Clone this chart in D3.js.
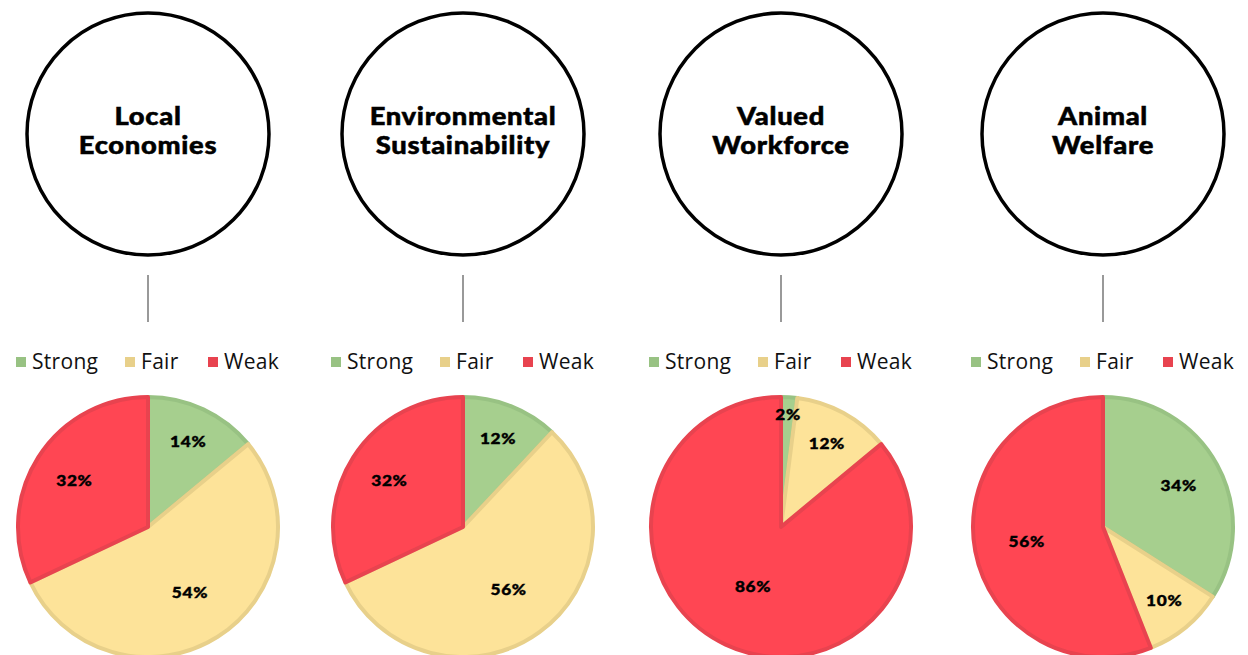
<!DOCTYPE html>
<html>
<head>
<meta charset="utf-8">
<script src="https://cdn.jsdelivr.net/npm/d3@7"></script>
<style>
  body { margin: 0; background: #fff; }
  svg { display: block; }
</style>
</head>
<body>
<div id="chart"></div>
<script>
// values
var topics = ["Local Economies", "Environmental Sustainability", "Valued Workforce", "Animal Welfare"];
var titleLines = [["Local", "Economies"], ["Environmental", "Sustainability"], ["Valued", "Workforce"], ["Animal", "Welfare"]];
var categories = ["Strong", "Fair", "Weak"];
var strong = [14, 12, 2, 34];
var fair = [54, 56, 12, 10];
var weak = [32, 32, 86, 56];

var width = 1248,
    height = 655;

var fills = { Strong: "#a6cf8e", Fair: "#fde399", Weak: "#ff4653" };
var strokes = { Strong: "#98c283", Fair: "#e8d08a", Weak: "#e8434f" };

var svg = d3.select("#chart")
            .append("svg")
            .attr("width", width)
            .attr("height", height);

// column centres of the four panels
var xScale = d3.scaleOrdinal().domain(topics).range([148, 463, 781, 1103]);

var circleY = 134, circleR = 121,
    pieY = 527, pieR = 130;

var pie = d3.pie().sort(null).value(function(d) { return d.value; });
var arc = d3.arc().innerRadius(0).outerRadius(pieR);

topics.forEach(function(topic, i) {
  var cx = xScale(topic);
  var g = svg.append("g").attr("transform", "translate(" + cx + ",0)");

  // header circle
  g.append("circle")
   .attr("cx", 0).attr("cy", circleY).attr("r", circleR)
   .attr("fill", "none").attr("stroke", "#000").attr("stroke-width", 3.5);

  // title, stretched a little to get the wide heavy look
  g.append("g")
   .attr("transform", "scale(1.14,1)")
   .selectAll(".title")
   .data(titleLines[i])
   .enter().append("text")
   .attr("class", "title")
   .attr("x", 0)
   .attr("y", function(d, j) { return 125 + j * 29; })
   .attr("text-anchor", "middle")
   .style("font-family", "Lato, sans-serif")
   .style("font-weight", 900)
   .style("font-size", "24px")
   .style("letter-spacing", "0.6px")
   .attr("stroke", "#000")
   .attr("stroke-width", 0.5)
   .text(function(d) { return d; });

  g.append("line")
   .attr("x1", 0).attr("x2", 0).attr("y1", 275).attr("y2", 322)
   .attr("stroke", "#555").attr("stroke-width", 1.2);

  // legend
  var legendX = [-132, -23, 60];
  var lg = g.selectAll(".legend")
            .data(categories)
            .enter().append("g")
            .attr("class", "legend")
            .attr("transform", function(d, j) { return "translate(" + legendX[j] + ",362)"; });
  lg.append("rect")
    .attr("x", 0).attr("y", -5).attr("width", 10).attr("height", 10)
    .attr("fill", function(d) { return strokes[d]; });
  lg.append("text")
    .attr("x", 16).attr("y", 7)
    .style("font-family", "'Open Sans', sans-serif")
    .style("font-size", "21px")
    .style("letter-spacing", "0.3px")
    .attr("fill", "#111")
    .text(function(d) { return d; });

  // pie
  var data = [
    { cat: "Strong", value: strong[i] },
    { cat: "Fair", value: fair[i] },
    { cat: "Weak", value: weak[i] }
  ];
  var pg = g.append("g").attr("transform", "translate(0," + pieY + ")");
  var arcs = pie(data);

  pg.selectAll(".slice")
    .data(arcs)
    .enter().append("path")
    .attr("class", "slice")
    .attr("d", arc)
    .attr("fill", function(d) { return fills[d.data.cat]; })
    .attr("stroke", function(d) { return strokes[d.data.cat]; })
    .attr("stroke-width", 4)
    .attr("stroke-linejoin", "round");

  pg.selectAll(".lbl")
    .data(arcs)
    .enter().append("text")
    .attr("class", "lbl")
    .attr("transform", function(d) {
      var a = (d.startAngle + d.endAngle) / 2;
      // bigger slices get their label pulled in a bit
      var r = d.data.value < 5 ? 112 : 100 - 0.4 * d.data.value;
      return "translate(" + (Math.sin(a) * r) + "," + (-Math.cos(a) * r) + ") scale(1.15,1)";
    })
    .attr("text-anchor", "middle")
    .attr("dy", "0.35em")
    .style("font-family", "Lato, sans-serif")
    .style("font-weight", 900)
    .style("font-size", "15px")
    .style("letter-spacing", "0.6px")
    .attr("fill", "#000")
    .attr("stroke", "#000")
    .attr("stroke-width", 0.4)
    .text(function(d) { return d.data.value + "%"; });
});
</script>
</body>
</html>
